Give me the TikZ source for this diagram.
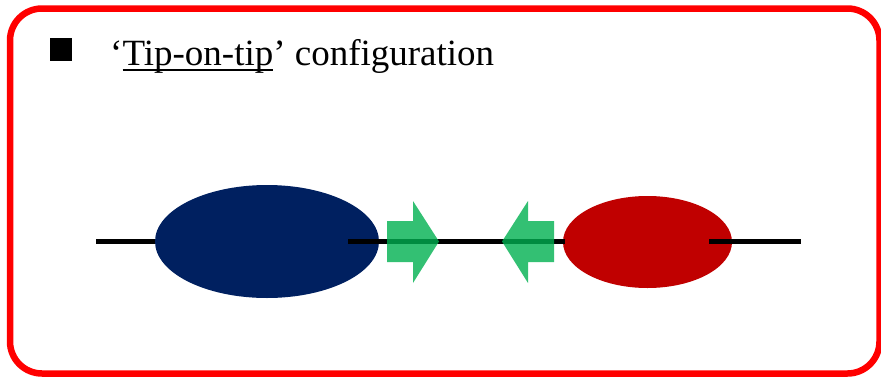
\documentclass[tikz,border=0pt]{standalone}
\usepackage{fontspec}
\setmainfont{Liberation Serif}
\newcommand\myul[1]{\setbox0\hbox{#1}\rlap{\rule[-5.5pt]{\wd0}{1.7pt}}\box0}
\definecolor{frameRed}{HTML}{FF0000}
\definecolor{navyBlob}{HTML}{002060}
\definecolor{redBlob}{HTML}{C00000}
\definecolor{arrowGreen}{HTML}{00B050}
\begin{document}
\begin{tikzpicture}[x=1pt,y=-1pt,
  dna/.style={line width=5.5pt,black},
  greenarrow/.style={fill=arrowGreen,fill opacity=0.8,draw=none}]
\useasboundingbox (0,0) rectangle (881,378);
\draw[frameRed,line width=6.5pt,rounded corners=32pt] (10,8.5) rectangle (879.5,373.5);
% bullet
\fill[black] (50,38) rectangle (72,61);
\node[anchor=base west,inner sep=0pt,font=\fontsize{37}{42}\selectfont] (title) at (110,65) {‘\myul{Tip-on-tip}’ configuration};
% DNA line
\coordinate (l0) at (96,241.5);
\coordinate (l1) at (801,241.5);
\draw[dna] (l0) -- (l1);
% blobs
\fill[navyBlob] (267,241.5) ellipse [x radius=112, y radius=56.5];
\fill[redBlob] (647.5,242) ellipse [x radius=84.5, y radius=46];
\coordinate (m0) at (348,241.5);
\coordinate (m1) at (565,241.5);
\coordinate (r0) at (709,241.5);
\draw[dna] (m0) -- (m1);
\draw[dna] (r0) -- (l1);
% arrows
\fill[greenarrow] (387,221) -- (413,221) -- (413,201) -- (439,241.5) -- (413,283) -- (413,262) -- (387,262) -- cycle;
\fill[greenarrow] (554,221) -- (528,221) -- (528,201) -- (502,241.5) -- (528,283) -- (528,262) -- (554,262) -- cycle;
\end{tikzpicture}
\end{document}
